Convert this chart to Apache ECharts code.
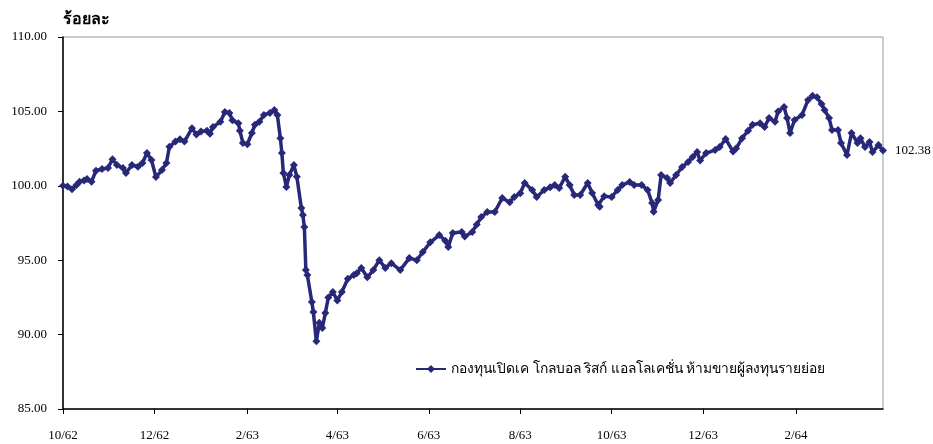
<!DOCTYPE html>
<html>
<head>
<meta charset="utf-8">
<script src="https://cdn.jsdelivr.net/npm/echarts@6/dist/echarts.min.js"></script>
<style>
html,body{margin:0;padding:0;background:#fff;}
#chart{width:933px;height:444px;}
</style>
</head>
<body>
<div id="chart"></div>
<script>
// ---- data ----
const seriesName = 'กองทุนเปิดเค โกลบอล ริสก์ แอลโลเคชั่น ห้ามขายผู้ลงทุนรายย่อย';
const yTitle = 'ร้อยละ';
const dates = [
 '2019-10-01','2019-10-04','2019-10-07','2019-10-10','2019-10-12','2019-10-15','2019-10-17','2019-10-20','2019-10-23','2019-10-27','2019-10-31',
 '2019-11-03','2019-11-06','2019-11-10','2019-11-12','2019-11-16','2019-11-20','2019-11-23','2019-11-26','2019-11-29',
 '2019-12-02','2019-12-06','2019-12-09','2019-12-11','2019-12-15','2019-12-18','2019-12-21','2019-12-26','2019-12-29',
 '2020-01-01','2020-01-05','2020-01-07','2020-01-09','2020-01-14','2020-01-17','2020-01-20','2020-01-22','2020-01-26','2020-01-27','2020-01-29',
 '2020-02-01','2020-02-04','2020-02-06','2020-02-09','2020-02-12','2020-02-16','2020-02-19','2020-02-21','2020-02-23','2020-02-24','2020-02-25','2020-02-27','2020-02-29',
 '2020-03-03','2020-03-05','2020-03-08','2020-03-09','2020-03-10','2020-03-11','2020-03-12','2020-03-15','2020-03-16','2020-03-18','2020-03-20','2020-03-22','2020-03-24','2020-03-26','2020-03-29',
 '2020-04-01','2020-04-04','2020-04-08','2020-04-12','2020-04-14','2020-04-17','2020-04-21','2020-04-25','2020-04-29',
 '2020-05-03','2020-05-07','2020-05-13','2020-05-19','2020-05-24','2020-05-28',
 '2020-06-02','2020-06-08','2020-06-12','2020-06-14','2020-06-17','2020-06-23','2020-06-25','2020-06-30',
 '2020-07-03','2020-07-06','2020-07-10','2020-07-15','2020-07-20','2020-07-25','2020-07-28',
 '2020-08-01','2020-08-04','2020-08-09','2020-08-12','2020-08-17','2020-08-21','2020-08-24','2020-08-27','2020-08-31',
 '2020-09-03','2020-09-06','2020-09-10','2020-09-15','2020-09-18','2020-09-22','2020-09-23','2020-09-26',
 '2020-10-01','2020-10-05','2020-10-08','2020-10-13','2020-10-16','2020-10-21','2020-10-25','2020-10-28','2020-10-29',
 '2020-11-01','2020-11-03','2020-11-07','2020-11-09','2020-11-13','2020-11-17','2020-11-21','2020-11-24','2020-11-27','2020-11-29',
 '2020-12-03','2020-12-09','2020-12-12','2020-12-16','2020-12-21','2020-12-23','2020-12-27','2020-12-31',
 '2021-01-03','2021-01-08','2021-01-11','2021-01-14','2021-01-18','2021-01-20','2021-01-24','2021-01-26','2021-01-28','2021-01-31',
 '2021-02-05','2021-02-09','2021-02-12','2021-02-15','2021-02-18','2021-02-20','2021-02-23','2021-02-25',
 '2021-03-01','2021-03-03','2021-03-07','2021-03-10','2021-03-14','2021-03-16','2021-03-19','2021-03-22','2021-03-24','2021-03-28','2021-03-31'
];
const values = [
 100.00,99.95,99.77,100.05,100.28,100.35,100.46,100.28,101.01,101.13,101.20,
 101.78,101.40,101.20,100.86,101.40,101.28,101.53,102.20,101.73,
 100.59,101.06,101.53,102.63,102.97,103.12,102.97,103.86,103.45,
 103.65,103.70,103.50,103.95,104.30,104.96,104.90,104.40,104.20,103.70,102.88,
 102.80,103.55,104.10,104.30,104.76,104.90,105.10,104.76,103.19,102.20,100.86,99.92,100.73,
 101.40,100.60,98.51,98.04,97.23,94.34,94.00,92.19,91.52,89.55,90.80,90.45,91.45,92.50,92.86,
 92.30,92.86,93.75,94.00,94.13,94.48,93.85,94.34,95.00,
 94.48,94.80,94.34,95.14,95.00,95.55,
 96.20,96.69,96.30,95.89,96.83,96.90,96.60,96.90,
 97.40,97.90,98.24,98.24,99.18,98.90,99.25,
 99.50,100.19,99.72,99.25,99.72,99.90,100.05,99.85,100.60,
 100.05,99.38,99.38,100.19,99.52,98.71,98.60,99.30,
 99.25,99.72,100.05,100.26,100.05,100.05,99.72,98.84,98.25,
 99.05,100.73,100.52,100.19,100.73,101.26,101.60,101.94,102.27,101.70,
 102.20,102.40,102.60,103.15,102.30,102.50,103.20,103.70,
 104.10,104.20,103.95,104.56,104.30,105.00,105.30,104.56,103.55,104.42,
 104.76,105.77,106.05,105.95,105.50,105.10,104.56,103.75,
 103.75,102.88,102.07,103.55,102.88,103.20,102.60,102.94,102.27,102.74,102.38
];
const xTickDates = ['2019-10-01','2019-12-01','2020-02-01','2020-04-01','2020-06-01','2020-08-01','2020-10-01','2020-12-01','2021-02-01'];
const xMinDate = '2019-10-01';
const xMaxDate = '2021-03-31';
const yTicks = [85, 90, 95, 100, 105, 110];

// ---- build ----
function ts(s){ const p = s.split('-').map(Number); return Date.UTC(p[0], p[1]-1, p[2]); }
const seriesData = dates.map((d, i) => [ts(d), values[i]]);
const navy = '#28287a';
const serif = '"Liberation Serif","Times New Roman",serif';
const sans = '"Noto Sans","DejaVu Sans",sans-serif';

const chart = echarts.init(document.getElementById('chart'), null, {renderer: 'canvas'});
chart.setOption({
  animation: false,
  backgroundColor: '#fff',
  title: {
    text: yTitle, left: 58, top: 6,
    textStyle: {fontFamily: sans, fontSize: 16, fontWeight: 'bold', color: '#000'}
  },
  grid: {left: 63, right: 50, top: 37, bottom: 35, show: true, borderColor: '#999', borderWidth: 1, backgroundColor: 'transparent'},
  legend: {
    data: [seriesName], left: 410, top: 357, itemWidth: 30, itemHeight: 10, itemGap: 8,
    textStyle: {fontFamily: sans, fontSize: 13.8, color: '#000'}
  },
  xAxis: {
    type: 'value', min: ts(xMinDate), max: ts(xMaxDate),
    splitLine: {show: false},
    axisLine: {show: true, lineStyle: {color: '#000', width: 1.5}},
    axisTick: {show: true, length: 5, lineStyle: {color: '#000'}, customValues: xTickDates.map(ts)},
    axisLabel: {
      customValues: xTickDates.map(ts), margin: 20, color: '#000', fontFamily: serif, fontSize: 13,
      formatter: v => { const d = new Date(v); return (d.getUTCMonth()+1) + '/' + String((d.getUTCFullYear()+543) % 100).padStart(2,'0'); }
    }
  },
  yAxis: {
    type: 'value', min: yTicks[0], max: yTicks[yTicks.length-1], interval: 5,
    splitLine: {show: false},
    axisLine: {show: true, lineStyle: {color: '#000', width: 1.5}},
    axisTick: {show: true, length: 5, lineStyle: {color: '#000'}},
    axisLabel: {margin: 16, color: '#000', fontFamily: serif, fontSize: 13, formatter: v => v.toFixed(2)}
  },
  series: [{
    name: seriesName, type: 'line', data: seriesData,
    symbol: 'diamond', symbolSize: 8, showAllSymbol: true,
    lineStyle: {color: navy, width: 3.5},
    itemStyle: {color: navy},
    endLabel: {show: true, distance: 12, color: '#000', fontFamily: serif, fontSize: 13,
      formatter: p => p.value[1].toFixed(2)}
  }]
});
</script>
</body>
</html>
